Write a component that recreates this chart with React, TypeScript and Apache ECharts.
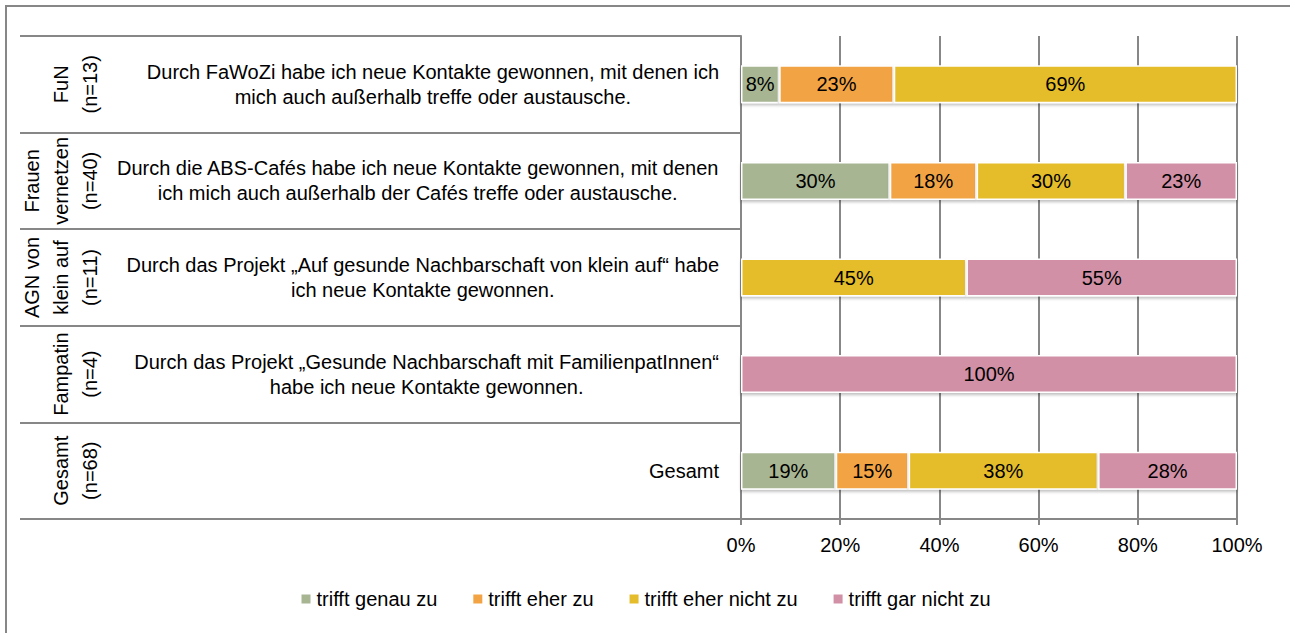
import React, { useEffect, useRef } from "react";
import * as echarts from "echarts";

const questions = [
  "Durch FaWoZi habe ich neue Kontakte gewonnen, mit denen ich\nmich auch außerhalb treffe oder austausche.",
  "Durch die ABS-Cafés habe ich neue Kontakte gewonnen, mit denen\nich mich auch außerhalb der Cafés treffe oder austausche.",
  "Durch das Projekt „Auf gesunde Nachbarschaft von klein auf“ habe\nich neue Kontakte gewonnen.",
  "Durch das Projekt „Gesunde Nachbarschaft mit FamilienpatInnen“\nhabe ich neue Kontakte gewonnen.",
  "Gesamt",
];
const groups = [
  "FuN\n(n=13)",
  "Frauen\nvernetzen\n(n=40)",
  "AGN von\nklein auf\n(n=11)",
  "Fampatin\n(n=4)",
  "Gesamt\n(n=68)",
];
const seriesNames = ["trifft genau zu", "trifft eher zu", "trifft eher nicht zu", "trifft gar nicht zu"];
const genau = [7.7, 30, 0, 0, 19.1];
const eher = [23.1, 17.5, 0, 0, 14.7];
const eherNicht = [69.2, 30, 45.45, 0, 38.2];
const gar = [0, 22.5, 54.55, 100, 28.0];
const colors = ["#A7B592", "#F2A445", "#E5BC2B", "#D190A5"];
const xTicks = [0, 20, 40, 60, 80, 100];

const FONT = "'Liberation Sans Narrow', 'Arial Narrow', 'Liberation Sans', Arial, sans-serif";
const FS = 20;
const GRAY = "#878787";

export default function App() {
  const ref = useRef<HTMLDivElement>(null);
  useEffect(() => {
    if (!ref.current) return;
    const chart = echarts.init(ref.current, null, { renderer: "svg" });
    const values = [genau, eher, eherNicht, gar];
    chart.setOption({
      animation: false,
      textStyle: { fontFamily: FONT },
      graphic: [
        {
          type: "rect",
          shape: { x: 6, y: 6, width: 1400, height: 800 },
          style: { fill: "none", stroke: GRAY, lineWidth: 2 },
          silent: true,
        },
      ],
      grid: { left: 741, right: 53, top: 36, bottom: 114, containLabel: false },
      legend: {
        bottom: 19,
        left: "center",
        icon: "rect",
        itemWidth: 11,
        itemHeight: 11,
        itemGap: 34,
        textStyle: { fontSize: FS, color: "#000", fontFamily: FONT },
        data: seriesNames,
      },
      xAxis: {
        type: "value",
        min: xTicks[0],
        max: xTicks[xTicks.length - 1],
        interval: 20,
        axisLine: { show: true, lineStyle: { color: GRAY, width: 2 } },
        axisTick: { show: true, length: 6, lineStyle: { color: GRAY, width: 2 } },
        splitLine: { show: true, lineStyle: { color: GRAY, width: 2 } },
        axisLabel: {
          formatter: "{value}%",
          fontSize: FS,
          color: "#000",
          margin: 16,
          fontFamily: FONT,
        },
      },
      yAxis: [
        {
          type: "category",
          inverse: true,
          data: questions,
          axisLine: { show: true, lineStyle: { color: GRAY, width: 2 } },
          axisTick: { show: true, length: 721, lineStyle: { color: GRAY, width: 2 } },
          axisLabel: {
            margin: 22,
            align: "right",
            interval: 0,
            formatter: (v: string) =>
              v
                .split("\n")
                .map((l) => `{c|${l}}`)
                .join("\n"),
            rich: {
              c: {
                align: "center",
                fontSize: FS,
                lineHeight: 25,
                color: "#000",
                fontFamily: FONT,
              },
            },
          },
        },
        {
          type: "category",
          inverse: true,
          position: "left",
          offset: 637,
          data: groups,
          axisLine: { show: false },
          axisTick: { show: false },
          axisLabel: {
            rotate: 90,
            margin: 0,
            interval: 0,
            hideOverlap: false,
            align: "center",
            verticalAlign: "bottom",
            fontSize: FS,
            lineHeight: 29,
            color: "#000",
            fontFamily: FONT,
          },
        },
      ],
      series: seriesNames.map((name, i) => ({
        name,
        type: "bar",
        stack: "total",
        barWidth: 38,
        yAxisIndex: 0,
        data: values[i],
        itemStyle: {
          color: colors[i],
          borderColor: "#ffffff",
          borderWidth: 1.5,
          shadowColor: "rgba(0,0,0,0.25)",
          shadowBlur: 3,
          shadowOffsetY: 2,
        },
        label: {
          show: true,
          position: "inside",
          fontSize: FS,
          color: "#000",
          fontFamily: FONT,
          formatter: (p: any) => (p.value > 0 ? `${Math.round(p.value)}%` : ""),
        },
      })),
    });
    return () => chart.dispose();
  }, []);
  return (
    <div
      ref={ref}
      style={{ position: "fixed", left: 0, top: 0, width: 1290, height: 633, background: "#fff" }}
    />
  );
}
